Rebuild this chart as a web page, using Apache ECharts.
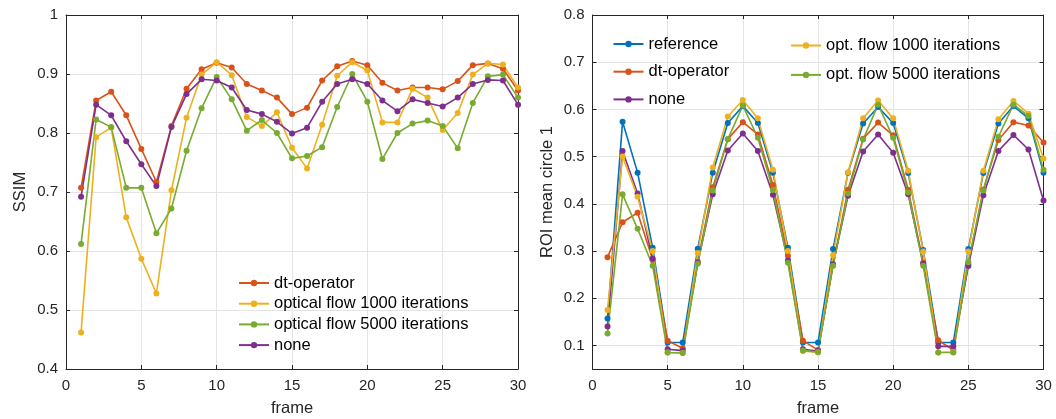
<!DOCTYPE html>
<html>
<head>
<meta charset="utf-8">
<script src="https://cdn.jsdelivr.net/npm/echarts@6/dist/echarts.min.js"></script>
<style>
html,body{margin:0;padding:0;background:#fff;}
#c{width:1056px;height:419px;}
</style>
</head>
<body>
<div id="c"></div>
<script>
// ---- data ----
const frames = [1,2,3,4,5,6,7,8,9,10,11,12,13,14,15,16,17,18,19,20,21,22,23,24,25,26,27,28,29,30];

// Left panel: SSIM
const ssimDt     = [0.707,0.855,0.870,0.830,0.773,0.717,0.812,0.875,0.908,0.919,0.911,0.883,0.872,0.860,0.832,0.843,0.889,0.913,0.922,0.915,0.885,0.872,0.877,0.877,0.874,0.888,0.915,0.918,0.909,0.872];
const ssimOf1000 = [0.462,0.793,0.809,0.657,0.587,0.528,0.703,0.826,0.899,0.920,0.898,0.827,0.812,0.835,0.775,0.740,0.814,0.897,0.920,0.906,0.818,0.818,0.875,0.860,0.805,0.834,0.899,0.918,0.916,0.877];
const ssimOf5000 = [0.612,0.823,0.810,0.707,0.707,0.630,0.672,0.770,0.842,0.895,0.857,0.804,0.822,0.800,0.757,0.761,0.776,0.844,0.900,0.853,0.756,0.800,0.816,0.821,0.812,0.774,0.851,0.896,0.899,0.860];
const ssimNone   = [0.692,0.848,0.830,0.786,0.747,0.710,0.810,0.866,0.891,0.889,0.877,0.839,0.832,0.819,0.799,0.809,0.853,0.883,0.891,0.883,0.855,0.837,0.857,0.851,0.845,0.860,0.883,0.890,0.889,0.848];

// Right panel: ROI mean circle 1
const roiRef    = [0.157,0.574,0.466,0.307,0.106,0.106,0.305,0.466,0.571,0.607,0.571,0.466,0.307,0.106,0.106,0.304,0.466,0.570,0.605,0.571,0.465,0.302,0.106,0.106,0.304,0.465,0.570,0.607,0.581,0.466];
const roiDt     = [0.287,0.361,0.381,0.282,0.110,0.094,0.277,0.435,0.537,0.573,0.547,0.440,0.290,0.110,0.090,0.270,0.430,0.538,0.572,0.545,0.430,0.275,0.111,0.090,0.272,0.430,0.535,0.573,0.566,0.530];
const roiNone   = [0.140,0.512,0.422,0.284,0.092,0.089,0.275,0.420,0.513,0.549,0.512,0.419,0.280,0.092,0.088,0.272,0.417,0.511,0.547,0.508,0.420,0.273,0.098,0.098,0.268,0.418,0.512,0.546,0.515,0.407];
const roiOf1000 = [0.175,0.500,0.415,0.300,0.085,0.084,0.296,0.477,0.585,0.620,0.581,0.472,0.300,0.088,0.085,0.291,0.467,0.581,0.619,0.581,0.470,0.299,0.085,0.086,0.299,0.470,0.579,0.618,0.591,0.496];
const roiOf5000 = [0.125,0.420,0.347,0.269,0.085,0.084,0.273,0.428,0.537,0.608,0.540,0.429,0.275,0.089,0.086,0.269,0.422,0.536,0.610,0.540,0.424,0.269,0.085,0.085,0.276,0.428,0.542,0.610,0.586,0.472];

const xTicks = [0,5,10,15,20,25,30];
const ssimTicks = [0.4,0.5,0.6,0.7,0.8,0.9,1];
const roiTicks = [0.1,0.2,0.3,0.4,0.5,0.6,0.7,0.8];

// ---- style ----
const C = {blue:'#0072BD', orange:'#D95319', yellow:'#EDB120', purple:'#7E2F8E', green:'#77AC30'};
const AX = '#262626';
const GRIDC = '#e4e4e4';
const FONT = "'Liberation Sans', Arial, Helvetica, sans-serif";
const TICKFS = 15, NAMEFS = 16.5, LEGFS = 16.5;

function pairs(ys){ return ys.map((y,i)=>[frames[i], y]); }

function xAx(gridIndex, pos, labels){
  return {
    type:'value', gridIndex, position:pos, min:0, max:30,
    name: labels ? 'frame' : '', nameLocation:'middle', nameGap:31,
    nameTextStyle:{fontFamily:FONT, fontSize:NAMEFS, color:AX},
    axisLine:{show:true, onZero:false, lineStyle:{color:AX, width:1}},
    axisTick:{show:true, inside:true, length:4, lineStyle:{color:AX}, customValues:xTicks},
    axisLabel:{show:labels, margin:9, fontFamily:FONT, fontSize:TICKFS, color:AX, customValues:xTicks},
    splitLine:{show:labels, lineStyle:{color:GRIDC, width:1}}
  };
}
function yAx(gridIndex, pos, labels, min, max, ticks, name, nameGap){
  return {
    type:'value', gridIndex, position:pos, min, max,
    name: labels ? name : '', nameLocation:'middle', nameGap,
    nameTextStyle:{fontFamily:FONT, fontSize:NAMEFS, color:AX},
    axisLine:{show:true, onZero:false, lineStyle:{color:AX, width:1}},
    axisTick:{show:true, inside:true, length:4, lineStyle:{color:AX}, customValues:ticks},
    axisLabel:{show:labels, margin:8, fontFamily:FONT, fontSize:TICKFS, color:AX, customValues:ticks},
    splitLine:{show:labels, lineStyle:{color:GRIDC, width:1}}
  };
}
function ser(name, ys, color, xi, yi){
  return {
    name, type:'line', xAxisIndex:xi, yAxisIndex:yi, data:pairs(ys),
    symbol:'circle', symbolSize:6, showSymbol:true,
    lineStyle:{color, width:1.6}, itemStyle:{color},
    emphasis:{disabled:true}, animation:false, clip:false
  };
}

const chart = echarts.init(document.getElementById('c'), null, {renderer:'canvas'});
chart.setOption({
  backgroundColor:'#ffffff',
  animation:false,
  grid:[
    {left:66, top:15, width:452, height:354, containLabel:false, outerBoundsMode:'none'},
    {left:592.5, top:15, width:451, height:354, containLabel:false, outerBoundsMode:'none'}
  ],
  xAxis:[
    xAx(0,'bottom',true), xAx(0,'top',false),
    xAx(1,'bottom',true), xAx(1,'top',false)
  ],
  yAxis:[
    yAx(0,'left',true,0.4,1,ssimTicks,'SSIM',37),
    yAx(0,'right',false,0.4,1,ssimTicks,'',0),
    yAx(1,'left',true,0.05,0.8,roiTicks,'ROI mean circle 1',37),
    yAx(1,'right',false,0.05,0.8,roiTicks,'',0)
  ],
  legend:[
    {data:['dt-operator','optical flow 1000 iterations','optical flow 5000 iterations','none '],
     orient:'vertical', left:238, top:274.5, padding:0, itemWidth:30, itemHeight:8, itemGap:3.7,
     textStyle:{fontFamily:FONT, fontSize:LEGFS, color:'#000'}},
    {data:['reference','dt-operator ','none'],
     orient:'vertical', left:612.5, top:35.5, padding:0, itemWidth:30, itemHeight:8, itemGap:10.7,
     textStyle:{fontFamily:FONT, fontSize:LEGFS, color:'#000'}},
    {data:['opt. flow 1000 iterations','opt. flow 5000 iterations'],
     orient:'vertical', left:790, top:37, padding:0, itemWidth:30, itemHeight:8, itemGap:12.4,
     textStyle:{fontFamily:FONT, fontSize:LEGFS, color:'#000'}}
  ],
  series:[
    ser('dt-operator', ssimDt, C.orange, 0, 0),
    ser('optical flow 1000 iterations', ssimOf1000, C.yellow, 0, 0),
    ser('optical flow 5000 iterations', ssimOf5000, C.green, 0, 0),
    ser('none ', ssimNone, C.purple, 0, 0),
    ser('reference', roiRef, C.blue, 2, 2),
    ser('dt-operator ', roiDt, C.orange, 2, 2),
    ser('none', roiNone, C.purple, 2, 2),
    ser('opt. flow 1000 iterations', roiOf1000, C.yellow, 2, 2),
    ser('opt. flow 5000 iterations', roiOf5000, C.green, 2, 2)
  ]
});
</script>
</body>
</html>
